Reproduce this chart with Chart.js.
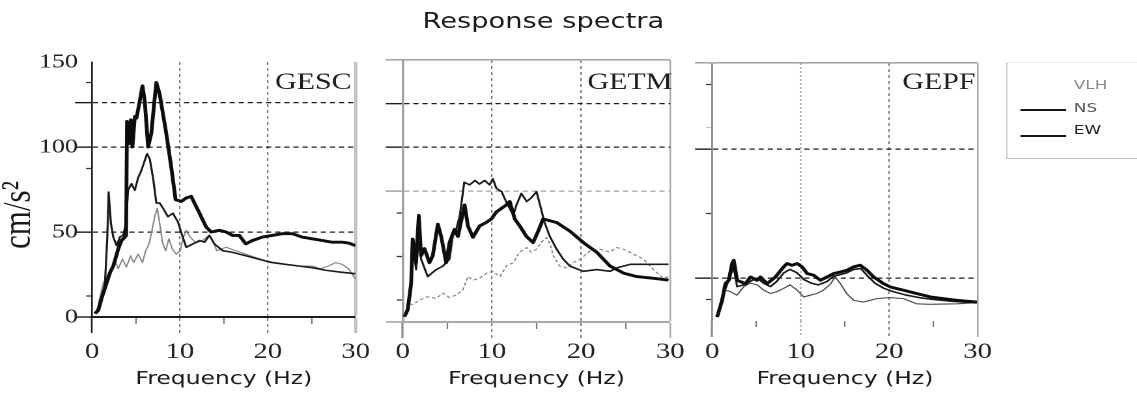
<!DOCTYPE html>
<html>
<head>
<meta charset="utf-8">
<title>Response spectra</title>
<script src="https://cdn.jsdelivr.net/npm/chart.js@4.4.1/dist/chart.umd.min.js"></script>
<style>
  html, body { margin: 0; padding: 0; background: #fff; overflow: hidden; }
  /* the scanned figure is stretched sideways, so the whole page is too */
  #fig { position: absolute; left: 0; top: 0; width: 875px; height: 399px;
         transform: scaleX(1.3); transform-origin: 0 0; }
  .panel { position: absolute; top: 40px; height: 359px; }
  #title { position: absolute; top: 9px; left: 268px; width: 300px; text-align: center;
           font: 21px "DejaVu Sans", sans-serif; line-height: 24px; color: #1a1a1a; }
  #ylab { position: absolute; left: -25px; top: 195px; width: 80px; height: 40px; line-height: 40px;
          text-align: center; font: 31px "Liberation Serif", serif; color: #1a1a1a; transform: rotate(-90deg); }
  #legend { position: absolute; left: 774px; top: 62px; width: 112px; height: 95px;
            border-left: 1px solid #c4c4c4; border-bottom: 1.5px solid #bdbdbd; border-top: 1px solid #ececec; }
  .key { position: absolute; left: 826px; font: 13px "DejaVu Sans", sans-serif; line-height: 16px; }
  .swatch { position: absolute; left: 785px; width: 35px; height: 2px; background: #151515; }
</style>
</head>
<body>
<div id="fig">
  <div id="title">Response spectra</div>
  <div id="ylab">cm/s²</div>
  <div class="panel" id="p0"><canvas id="c0"></canvas></div>
  <div class="panel" id="p1"><canvas id="c1"></canvas></div>
  <div class="panel" id="p2"><canvas id="c2"></canvas></div>
  <div id="legend"></div>
</div>
<script>
var S = 1.3;

var freqTicks = [0, 5, 10, 15, 20, 25, 30];
var freqLabels = [0, 10, 20, 30];
var components = ['EW', 'NS', 'VLH'];

// GESC
var gescAccTicks = [0, 12.5, 50, 87.5, 100, 126, 138, 150];
var gescAccLabels = [0, 50, 100, 150];
var gescEwHz = [0.34, 0.72, 1.09, 1.66, 2.04, 2.42, 2.98, 3.36, 3.74, 3.88, 3.98, 4.23, 4.42, 4.6, 4.87, 5.06, 5.43, 5.74, 6.0, 6.38, 6.75, 7.06, 7.32, 7.7, 8.45, 9.02, 9.51, 10.15, 10.72, 11.28, 11.66, 12.23, 12.98, 13.55, 14.49, 15.25, 16.0, 16.75, 17.5, 18.26, 19.4, 20.5, 21.66, 22.8, 23.9, 25.06, 26.2, 27.3, 28.45, 29.2, 29.96];
var gescEwAcc = [2, 4, 11, 20, 26, 30, 40, 45, 47, 48, 115, 102, 116, 100, 118, 117, 127, 136, 127, 100, 108, 125, 138, 131, 108, 88, 69, 68, 70, 71, 67, 61, 53, 50, 51, 50, 48, 48, 43, 45, 47, 48, 49, 49, 47, 46, 45, 44, 44, 43.5, 42];
var gescNsHz = [0.34, 0.9, 1.47, 1.74, 1.89, 2.15, 2.42, 2.8, 3.17, 3.55, 3.85, 4.1, 4.5, 4.87, 5.25, 5.6, 6.0, 6.26, 6.57, 6.94, 7.32, 7.7, 8.08, 8.64, 9.2, 9.77, 10.26, 10.72, 11.47, 12.23, 12.8, 13.36, 13.92, 14.87, 16.0, 17.5, 19.0, 20.5, 22.0, 23.5, 25.06, 26.6, 28.08, 29.96];
var gescNsAcc = [2, 7, 19.6, 47, 73.5, 55, 47, 42, 47, 48, 55, 74.5, 78.4, 74.5, 82, 86, 92, 96, 93, 82, 67, 67, 64, 59, 61, 56, 48, 41, 43, 45, 44, 48, 43, 39, 38, 36, 34, 32, 31, 30, 29, 27.5, 26.5, 25.5];
var gescVlhHz = [0.53, 1.28, 1.66, 2.04, 2.6, 2.98, 3.47, 3.92, 4.38, 4.75, 5.25, 5.74, 6.11, 6.49, 6.79, 7.13, 7.43, 7.7, 8.0, 8.38, 8.75, 9.13, 9.58, 10.04, 10.34, 10.72, 11.17, 11.85, 12.6, 13.28, 13.74, 14.19, 15.25, 16.38, 17.5, 18.64, 19.77, 20.9, 22.0, 23.5, 25.06, 26.0, 26.94, 27.7, 28.45, 29.2, 29.96];
var gescVlhAcc = [3, 20, 23.5, 27.5, 33, 28.4, 34, 29.4, 36, 32, 37, 32, 39, 43, 50, 59, 64, 55, 44, 39, 46, 40, 37, 39, 46, 51, 47, 43.5, 45, 48, 45, 39, 41, 39, 37, 35, 33, 32, 31, 30, 30, 28.4, 30, 32, 31, 28.4, 22.5];

// GETM
var getmAccTicks = [0, 12.5, 37.5, 62.5, 75, 100, 125, 150];
var getmEwHz = [0.19, 0.56, 0.94, 1.12, 1.5, 1.8, 2.06, 2.44, 3.0, 3.37, 3.94, 4.31, 4.87, 5.25, 5.81, 6.19, 6.94, 7.31, 7.87, 8.62, 9.37, 9.94, 10.5, 11.06, 11.62, 12.0, 12.56, 13.12, 13.87, 14.62, 15.19, 15.75, 17.25, 18.75, 20.25, 21.75, 23.25, 24.75, 26.25, 28.12, 29.8];
var getmEwAcc = [3, 7, 22, 47.5, 34, 61, 38, 42, 34, 38, 56, 49, 34, 45.5, 53, 49, 67, 55, 48.5, 55, 57, 59, 63, 65, 67, 69, 59, 55, 49, 45.5, 52, 59, 57, 52, 45.5, 40, 32, 28, 26, 25, 24];
var getmNsHz = [0.19, 0.56, 0.94, 1.12, 1.5, 1.8, 2.06, 2.8, 3.75, 4.5, 5.25, 5.6, 6.0, 6.4, 6.9, 7.5, 8.1, 8.6, 9.2, 9.75, 10.1, 10.5, 11.1, 11.4, 12.0, 12.4, 12.75, 13.3, 13.9, 14.4, 15.0, 15.4, 15.9, 16.5, 17.25, 18.0, 18.75, 20.25, 21.75, 23.25, 24.0, 25.5, 27.75, 29.8];
var getmNsAcc = [3, 8, 24, 44, 30, 52, 36, 26, 30, 32, 36, 49, 53, 61, 80, 78.5, 81, 79, 81, 78.5, 82, 76.5, 74.6, 71, 65, 61, 67, 73.6, 69, 71, 74.6, 67, 57, 49, 41.7, 36, 32, 29, 30, 29, 31, 33, 33, 33];
var getmVlhHz = [0.19, 0.56, 1.1, 1.9, 2.8, 3.75, 4.5, 5.25, 6.0, 6.75, 7.3, 7.9, 8.6, 9.4, 10.1, 10.9, 11.6, 12.4, 13.1, 13.9, 14.4, 15.0, 15.5, 16.1, 16.5, 16.9, 17.6, 18.4, 19.1, 19.9, 21.0, 22.1, 23.2, 24.0, 24.75, 25.9, 27.0, 28.1, 29.25, 29.8];
var getmVlhAcc = [3, 10.7, 10, 12.6, 14.5, 13.5, 16.5, 14, 15.5, 18.4, 26, 24, 25, 28, 29, 26, 32, 34, 40, 42.6, 40, 41.7, 45.5, 48.4, 45, 37.8, 32, 31, 34, 36, 40.7, 41.7, 40, 42.6, 41.7, 38.8, 36, 30, 25, 26];

// GEPF
var gepfAccTicks = [12.5, 25, 62.5, 100, 112.5, 137.5, 150];
var gepfEwHz = [0.56, 1.13, 1.5, 1.88, 2.26, 2.45, 2.82, 3.76, 4.33, 5.08, 5.46, 6.21, 7.15, 8.09, 8.47, 9.03, 9.6, 10.16, 10.73, 11.48, 12.23, 12.98, 13.74, 14.49, 15.24, 16.0, 16.75, 17.5, 18.25, 19.38, 20.14, 21.64, 23.15, 24.65, 26.16, 27.66, 29.92];
var gepfEwAcc = [2.3, 12, 21.7, 23.7, 33.4, 35.3, 23.7, 21.7, 25.6, 23.7, 25.6, 21.7, 25.6, 31.5, 33.4, 32.4, 33.4, 31.5, 27.6, 26.6, 23.7, 25.6, 27.6, 28.5, 29.5, 31.5, 32.4, 29.5, 25.6, 21.7, 19.8, 17.9, 15.9, 14, 13, 12, 11];
var gepfNsHz = [0.56, 1.13, 1.6, 2.26, 2.45, 2.82, 3.6, 4.3, 5.1, 5.8, 6.6, 7.3, 8.1, 8.8, 9.6, 10.4, 11.2, 12.0, 13.0, 13.7, 14.5, 15.2, 16.0, 16.8, 17.6, 18.4, 19.4, 20.5, 22.0, 23.5, 25.0, 27.0, 29.9];
var gepfNsAcc = [2.3, 14, 20, 29, 31, 20, 21, 23, 25, 22, 20, 23, 28, 30, 28, 24, 22, 21, 23, 26, 27, 28, 30, 30.5, 26, 22, 19, 17, 15, 13.5, 12.5, 11.5, 10.5];
var gepfVlhHz = [0.56, 1.13, 1.5, 2.1, 2.8, 3.6, 4.3, 5.1, 5.8, 6.6, 7.3, 8.1, 8.8, 9.6, 10.35, 11.1, 11.85, 12.6, 13.4, 13.9, 14.5, 15.2, 16.0, 17.1, 18.6, 20.1, 21.6, 23.1, 24.6, 27.7, 29.9];
var gepfVlhAcc = [2.3, 13, 18, 17, 15, 20, 22, 21, 18, 16, 17, 19, 21, 18, 14, 15, 16, 18, 21.7, 25.6, 21.7, 16, 12, 11, 13, 13.6, 13, 10, 9.7, 10, 10.7];

// plot boxes are in page pixels: [left, right, top, bottom]
var panels = [
    {station: 'GESC', plot: [92, 357, 62, 317], labelDx: 4,
     accTicks: gescAccTicks, accLabels: gescAccLabels,
     yMarks: ['L', 's', 'LD', 's', 'LD', 'LD', 's', '-'],
     xMarks: ['A', 'm', 'D', 'm', 'D', 'm', 'R'],
     yBorder: ['#1c1c1c', 1.3], xBorder: ['#1c1c1c', 2],
     vlh: ['#858585', []],
     series: [[gescEwHz, gescEwAcc], [gescNsHz, gescNsAcc], [gescVlhHz, gescVlhAcc]]},
    {station: 'GETM', plot: [403, 670, 60, 322], labelDx: -2,
     accTicks: getmAccTicks, accLabels: [],
     yMarks: ['G', 's', 's', 's', 'GD', 'LD', 'LD', 'F'],
     xMarks: ['a', 'm', 'D', 'm', 'D', 'm', 'r'],
     yBorder: ['#a0a0a0', 1.8], xBorder: ['#a8a8a8', 2],
     vlh: ['#858585', [3, 2]],
     series: [[getmEwHz, getmEwAcc], [getmNsHz, getmNsAcc], [getmVlhHz, getmVlhAcc]]},
    {station: 'GEPF', plot: [712, 977, 63, 321], labelDx: 2,
     accTicks: gepfAccTicks, accLabels: [],
     yMarks: ['s', 'LD', 's', 'LD', 'f', 's', 'F'],
     xMarks: ['a', 'm', 'd', 'm', 'D', 'm', 'r'],
     yBorder: ['#8a8a8a', 1.4], xBorder: null,
     vlh: ['#4a4a4a', []],
     series: [[gepfEwHz, gepfEwAcc], [gepfNsHz, gepfNsAcc], [gepfVlhHz, gepfVlhAcc]]}
];

var TICK_Y = 17 / S, SHORT_Y = 6 / S;
var TICK_X = 16, SHORT_X = 6;
var NONE = 'rgba(0,0,0,0)';

function yMarkStyle(kind) {
    switch (kind) {
        case 'L':  return {tick: '#1c1c1c', tw: 1.4};
        case 'LD': return {grid: '#1c1c1c', gw: 1.3, dash: [4, 3], tick: '#1c1c1c', tw: 1.4};
        case 'G':  return {tick: '#a6a6a6', tw: 1.6};
        case 'GD': return {grid: '#a0a0a0', gw: 1.2, dash: [4, 3], tick: '#a6a6a6', tw: 1.6};
        case 'F':  return {grid: '#a6a6a6', gw: 1.6, dash: [], tick: '#a6a6a6', tw: 1.6};
        case 's':  return {tick: '#333', tw: 1.3, short: true};
        case 'f':  return {tick: '#c4c4c4', tw: 1.2, short: true};
        default:   return {};
    }
}

function xMarkStyle(kind) {
    switch (kind) {
        case 'A': return {tick: '#1c1c1c', tw: 1.3};
        case 'a': return {tick: '#8a8a8a', tw: 1.6};
        case 'm': return {tick: '#7a7a7a', tw: 1.1, short: true};
        case 'D': return {grid: '#7a7a7a', gw: 1.1, dash: [3, 3], tick: '#7a7a7a', tw: 1.1};
        case 'd': return {grid: '#b4b4b4', gw: 1.4, dash: [2, 2], tick: '#b4b4b4', tw: 1.4};
        case 'R': return {grid: '#c2c2c2', gw: 2.4, dash: [], tick: '#c2c2c2', tw: 2.4};
        case 'r': return {grid: '#a8a8a8', gw: 1.3, dash: [], tick: '#a8a8a8', tw: 1.3};
        default:  return {};
    }
}

function series(hz, acc) {
    return hz.map(function(f, i) { return {x: f, y: acc[i]}; });
}

// station name in the top right corner of each plot
var stationLabel = {
    id: 'stationLabel',
    afterDatasetsDraw: function(chart, args, opts) {
        var ctx = chart.ctx;
        ctx.save();
        ctx.font = '23px "Liberation Serif", serif';
        ctx.fillStyle = '#1e1e1e';
        ctx.textAlign = 'right';
        ctx.textBaseline = 'alphabetic';
        ctx.fillText(opts.text, chart.chartArea.right - opts.dx, opts.baseline);
        ctx.restore();
    }
};

panels.forEach(function(p, n) {
    var left = p.plot[0], right = p.plot[1], top = p.plot[2], bottom = p.plot[3];
    var box = document.getElementById('p' + n);
    box.style.left = ((left - 62) / S) + 'px';
    box.style.width = ((right - left + 82) / S) + 'px';

    var ys = function(c) { return yMarkStyle(p.yMarks[c.index]); };
    var xs = function(c) { return xMarkStyle(p.xMarks[c.index]); };
    var xTickPad = 352 - bottom - TICK_X - 22 * 1.2 / 2;

    var styles = [
        {color: '#0d0d0d', width: 2.9, dash: []},
        {color: '#1a1a1a', width: 1.6, dash: []},
        {color: p.vlh[0], width: 1.1, dash: p.vlh[1]}
    ];

    new Chart(document.getElementById('c' + n), {
        type: 'line',
        data: {
            datasets: components.map(function(name, k) {
                return {
                    label: name,
                    data: series(p.series[k][0], p.series[k][1]),
                    borderColor: styles[k].color,
                    borderWidth: styles[k].width,
                    borderDash: styles[k].dash,
                    borderJoinStyle: 'round',
                    pointRadius: 0,
                    tension: 0,
                    fill: false
                };
            })
        },
        plugins: [stationLabel],
        options: {
            responsive: true,
            maintainAspectRatio: false,
            animation: false,
            devicePixelRatio: 2,
            events: [],
            layout: {padding: {top: top - 40, right: 20 / S, bottom: 0, left: 0}},
            plugins: {
                legend: {display: false},
                title: {display: false},
                tooltip: {enabled: false},
                stationLabel: {text: p.station, dx: p.labelDx / S, baseline: 49}
            },
            scales: {
                x: {
                    type: 'linear', min: 0, max: 30,
                    afterBuildTicks: function(scale) {
                        scale.ticks = freqTicks.map(function(v) { return {value: v}; });
                    },
                    afterFit: function(scale) { scale.height = 399 - bottom; },
                    ticks: {
                        autoSkip: false, maxRotation: 0, minRotation: 0,
                        padding: xTickPad,
                        color: '#222',
                        font: {family: '"Liberation Serif", serif', size: 22},
                        callback: function(v) { return freqLabels.indexOf(v) >= 0 ? String(v) : ''; }
                    },
                    grid: {
                        color: function(c) { return xs(c).grid || NONE; },
                        lineWidth: function(c) { return xs(c).grid ? xs(c).gw : 0; },
                        tickLength: TICK_X,
                        tickColor: function(c) { return xs(c).tick || NONE; },
                        tickWidth: function(c) { return xs(c).tick ? xs(c).tw : 0; },
                        tickBorderDash: function(c) {
                            var st = xs(c);
                            return st.short ? [SHORT_X, TICK_X - SHORT_X] : (st.dash || []);
                        }
                    },
                    border: {
                        display: !!p.xBorder,
                        color: p.xBorder ? p.xBorder[0] : NONE,
                        width: p.xBorder ? p.xBorder[1] : 0,
                        dash: function(c) { return (c.tick && xs(c).dash) || []; }
                    },
                    title: {
                        display: true,
                        text: 'Frequency (Hz)',
                        color: '#1a1a1a',
                        font: {family: '"DejaVu Sans", sans-serif', size: 18},
                        padding: {top: 0, bottom: 9}
                    }
                },
                y: {
                    type: 'linear', min: 0, max: 150,
                    afterBuildTicks: function(scale) {
                        scale.ticks = p.accTicks.map(function(v) { return {value: v}; });
                    },
                    afterFit: function(scale) { scale.width = 62 / S; },
                    ticks: {
                        autoSkip: false,
                        padding: -2.2,
                        color: '#222',
                        font: {family: '"Liberation Serif", serif', size: 20},
                        callback: function(v) { return p.accLabels.indexOf(v) >= 0 ? String(v) : ''; }
                    },
                    grid: {
                        color: function(c) { return ys(c).grid || NONE; },
                        lineWidth: function(c) { return ys(c).grid ? ys(c).gw : 0; },
                        tickLength: TICK_Y,
                        tickColor: function(c) { return ys(c).tick || NONE; },
                        tickWidth: function(c) { return ys(c).tick ? ys(c).tw : 0; },
                        tickBorderDash: function(c) {
                            return ys(c).short ? [0, TICK_Y - SHORT_Y, SHORT_Y, 0] : [];
                        }
                    },
                    border: {
                        display: true,
                        color: p.yBorder[0],
                        width: p.yBorder[1],
                        dash: function(c) { return (c.tick && ys(c).dash) || []; }
                    }
                }
            }
        }
    });
});

// shared legend box on the right, built from the component names
var fig = document.getElementById('fig');
var keyTops = {VLH: 77, NS: 100, EW: 122};
var keyColors = {VLH: '#8a8a8a', NS: '#555', EW: '#222'};
var swatchTops = {NS: 109, EW: 135};
components.slice().reverse().forEach(function(name) {
    var key = document.createElement('div');
    key.className = 'key';
    key.style.top = keyTops[name] + 'px';
    key.style.color = keyColors[name];
    key.textContent = name;
    fig.appendChild(key);
    if (swatchTops[name]) {
        var sw = document.createElement('div');
        sw.className = 'swatch';
        sw.style.top = swatchTops[name] + 'px';
        fig.appendChild(sw);
    }
});
</script>
</body>
</html>
